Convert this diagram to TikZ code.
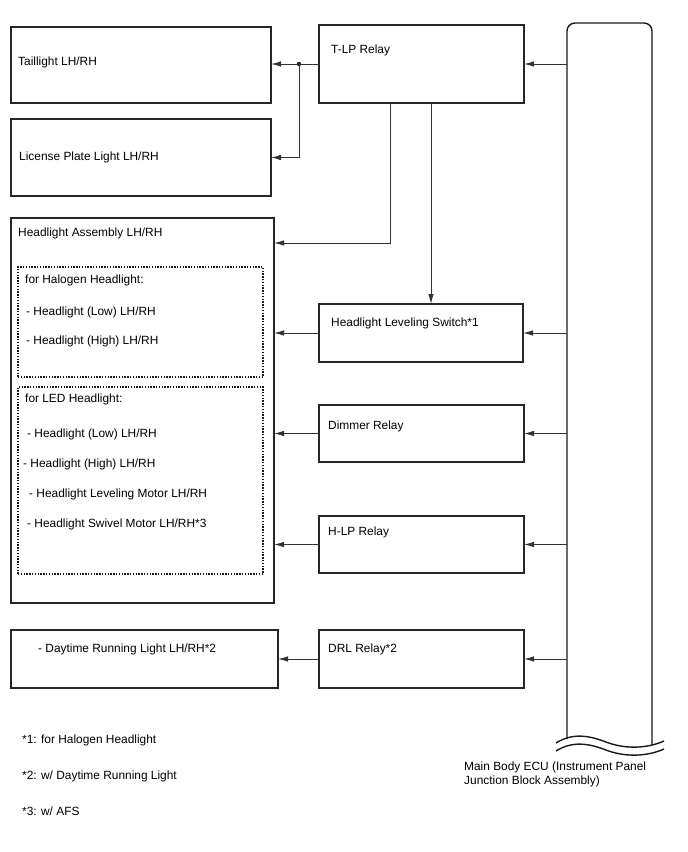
\documentclass[tikz,border=0pt]{standalone}
\usepackage{fontspec}
\setmainfont{Liberation Sans}
\usetikzlibrary{arrows.meta}
\begin{document}
\begin{tikzpicture}[x=1pt,y=-1pt,
  box/.style={draw=black!85, line width=1.2pt, anchor=north west, inner sep=0pt, outer sep=0pt},
  dotbox/.style={draw=black!90, line width=1.3pt, dash pattern=on 1.4pt off 1.4pt, anchor=north west, inner sep=0pt, outer sep=0pt},
  txt/.style={anchor=west, inner sep=0pt, font=\fontsize{11.9}{14}\selectfont},
  conn/.style={draw=black!80, line width=0.9pt},
  arr/.style={conn, -{Latex[length=10pt,width=5.5pt]}},
  eculine/.style={draw=black!90, line width=1.4pt},
]
\useasboundingbox (0,0) rectangle (688,852);

% boxes
\node[box, minimum width=260, minimum height=76] (tail) at (11,27) {};
\node[box, minimum width=260, minimum height=77] (lic) at (11,119) {};
\node[box, minimum width=205, minimum height=78] (tlp) at (319,25) {};
\node[box, minimum width=263, minimum height=385] (hla) at (11,218) {};
\node[dotbox, minimum width=245, minimum height=110] (halo) at (18,267) {};
\node[dotbox, minimum width=245, minimum height=187] (led) at (18,387) {};
\node[box, minimum width=204, minimum height=58] (lvl) at (319,304) {};
\node[box, minimum width=205, minimum height=57] (dim) at (319,405) {};
\node[box, minimum width=205, minimum height=57] (hlp) at (319,516) {};
\node[box, minimum width=267, minimum height=58] (drl) at (11,630) {};
\node[box, minimum width=205, minimum height=58] (drlr) at (319,630) {};

% texts
\node[txt] (ttail) at (18,62) {Taillight LH/RH};
\node[txt] (tlic) at (19,157) {License Plate Light LH/RH};
\node[txt] (ttlp) at (331,50) {T-LP Relay};
\node[txt] (thla) at (18,233) {Headlight Assembly LH/RH};
\node[txt] (th0) at (25,280) {for Halogen Headlight:};
\node[txt] (th1) at (26,312) {- Headlight (Low) LH/RH};
\node[txt] (th2) at (26,341) {- Headlight (High) LH/RH};
\node[txt] (tl0) at (25,399) {for LED Headlight:};
\node[txt] (tl1) at (27,434) {- Headlight (Low) LH/RH};
\node[txt] (tl2) at (23,464) {- Headlight (High) LH/RH};
\node[txt] (tl3) at (29,494) {- Headlight Leveling Motor LH/RH};
\node[txt] (tl4) at (27,524) {- Headlight Swivel Motor LH/RH*3};
\node[txt] (tlvl) at (331,323) {Headlight Leveling Switch*1};
\node[txt] (tdim) at (328,426) {Dimmer Relay};
\node[txt] (thlp) at (328,532) {H-LP Relay};
\node[txt] (tdrl) at (38,649) {- Daytime Running Light LH/RH*2};
\node[txt] (tdrlr) at (328,649) {DRL Relay*2};
\node[txt] (f1) at (22,740) {*1: for Halogen Headlight};
\node[txt] (f2) at (22,776) {*2: w/ Daytime Running Light};
\node[txt] (f3) at (22,811) {*3: w/ AFS};
\node[txt, anchor=north west, align=left] (tecu) at (464,762) {Main Body ECU (Instrument Panel\\Junction Block Assembly)};

% Main Body ECU
\draw[eculine, rounded corners=8pt] (567,739) -- (567,23) -- (652,23) -- (652,745);
\draw[eculine] (556,743) .. controls (572,733) and (588,735) .. (606,742) .. controls (624,749) and (646,749) .. (664,741);
\draw[eculine] (556,751) .. controls (572,741) and (588,743) .. (606,750) .. controls (624,757) and (646,757) .. (664,749);

\coordinate (e1) at (567,64);
\coordinate (e2) at (567,333);
\coordinate (e3) at (567,433.5);
\coordinate (e4) at (567,544.5);
\coordinate (e5) at (567,659);

% connectors
\draw[arr] (e1) -- (tlp.east |- e1);
\path (tlp.west) -- ++(-20,0) coordinate (j);
\draw[arr] (tlp.west) -- (tail.east |- tlp.west);
\fill[black!85] (j) circle (2.2);
\draw[arr] (j) |- (lic.east);
\coordinate (t1) at ([xshift=-31.5pt]tlp.south);
\coordinate (t2) at ([xshift=9.5pt]tlp.south);
\coordinate (h1) at ([yshift=-25pt]hla.north east);
\draw[arr] (t1) |- (h1);
\draw[arr] (t2) -- (lvl.north -| t2);
\draw[arr] (e2) -- (lvl.east);
\draw[arr] (lvl.west) -- (hla.east |- lvl.west);
\draw[arr] (e3) -- (dim.east);
\draw[arr] (dim.west) -- (hla.east |- dim.west);
\draw[arr] (e4) -- (hlp.east);
\draw[arr] (hlp.west) -- (hla.east |- hlp.west);
\draw[arr] (e5) -- (drlr.east);
\draw[arr] (drlr.west) -- (drl.east);
\end{tikzpicture}
\end{document}
